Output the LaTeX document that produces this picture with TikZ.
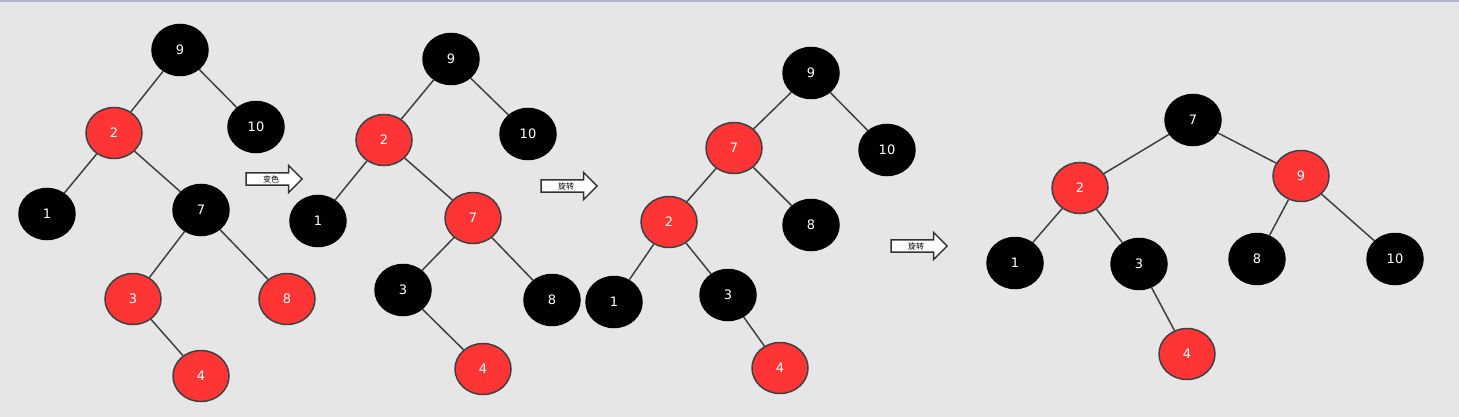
\documentclass[tikz,border=0pt]{standalone}
\usepackage{fontspec}
\setmainfont{DejaVu Sans}
\newfontfamily\cjk{Noto Sans CJK SC}
\usepackage{tikz}
\usetikzlibrary{positioning,shapes,shapes.arrows}
\definecolor{bg}{HTML}{E6E6E6}
\definecolor{rbred}{HTML}{FF3535}

\begin{document}
\begin{tikzpicture}
		[x=1pt, y=-1pt, font=\fontsize{13}{13}\selectfont,
		every node/.style={ellipse, minimum width=56pt, minimum height=51pt,
			inner sep=0pt, text=white},
		blknode/.style={fill=black, draw=black, line width=1.5pt},
		rednode/.style={fill=rbred, draw=black!75, line width=1.5pt},
		edge/.style={draw=black!75, line width=1.5pt},
		step arrow/.style={single arrow, draw=black!80, fill=white, line width=1.5pt,
			inner sep=1.5pt, minimum height=56pt, minimum width=27pt,
			single arrow head extend=7pt,
			text=black, font=\cjk\fontsize{8}{8}\selectfont},
		]
		\useasboundingbox (0,0) rectangle (1459,417);
		\fill[bg] (0,0) rectangle (1459,417);
		\fill[blue!20!gray!50] (0,0) rectangle (1459,2);
		
		% first tree
		\node[blknode] (a9) at (180,50) {9};
		\node[rednode] (a2) at (114,133) {2};
		\node[blknode] (a10) at (256,127) {10};
		\node[blknode] (a1) at (47,214) {1};
		\node[blknode] (a7) at (201,210) {7};
		\node[rednode] (a3) at (133,299) {3};
		\node[rednode] (a8) at (287,299) {8};
		\node[rednode] (a4) at (201,376) {4};
		\draw[edge] (a9) -- (a2) (a9) -- (a10) (a2) -- (a1) (a2) -- (a7)
			(a7) -- (a3) (a7) -- (a8) (a3) -- (a4);
		
		\node[step arrow] (s1) at (271,179) {变色};
		
		% second tree
		\node[blknode] (b9) at (451,59) {9};
		\node[rednode] (b2) at (384,140) {2};
		\node[blknode] (b10) at (528,134) {10};
		\node[blknode] (b1) at (318,221) {1};
		\node[rednode] (b7) at (473,218) {7};
		\node[blknode] (b3) at (403,290) {3};
		\node[blknode] (b8) at (552,300) {8};
		\node[rednode] (b4) at (483,369) {4};
		\draw[edge] (b9) -- (b2) (b9) -- (b10) (b2) -- (b1) (b2) -- (b7)
			(b7) -- (b3) (b7) -- (b8) (b3) -- (b4);
		
		\node[step arrow] (s2) at (566,186) {旋转};
		
		% third tree
		\node[blknode] (c9) at (811,73) {9};
		\node[rednode] (c7) at (734,148) {7};
		\node[blknode] (c10) at (887,150) {10};
		\node[rednode] (c2) at (669,222) {2};
		\node[blknode] (c8) at (811,225) {8};
		\node[blknode] (c1) at (614,302) {1};
		\node[blknode] (c3) at (728,295) {3};
		\node[rednode] (c4) at (780,368) {4};
		\draw[edge] (c9) -- (c7) (c9) -- (c10) (c7) -- (c2) (c7) -- (c8)
			(c2) -- (c1) (c2) -- (c3) (c3) -- (c4);
		
		\node[step arrow] (s3) at (916,246) {旋转};
		
		% fourth tree
		\node[blknode] (d7) at (1193,120) {7};
		\node[rednode] (d2) at (1080,188) {2};
		\node[rednode] (d9) at (1301,176) {9};
		\node[blknode] (d1) at (1015,263) {1};
		\node[blknode] (d3) at (1139,264) {3};
		\node[blknode] (d8) at (1257,259) {8};
		\node[blknode] (d10) at (1395,259) {10};
		\node[rednode] (d4) at (1187,354) {4};
		\draw[edge] (d7) -- (d2) (d7) -- (d9) (d2) -- (d1) (d2) -- (d3)
			(d3) -- (d4) (d9) -- (d8) (d9) -- (d10);
\end{tikzpicture}
\end{document}
